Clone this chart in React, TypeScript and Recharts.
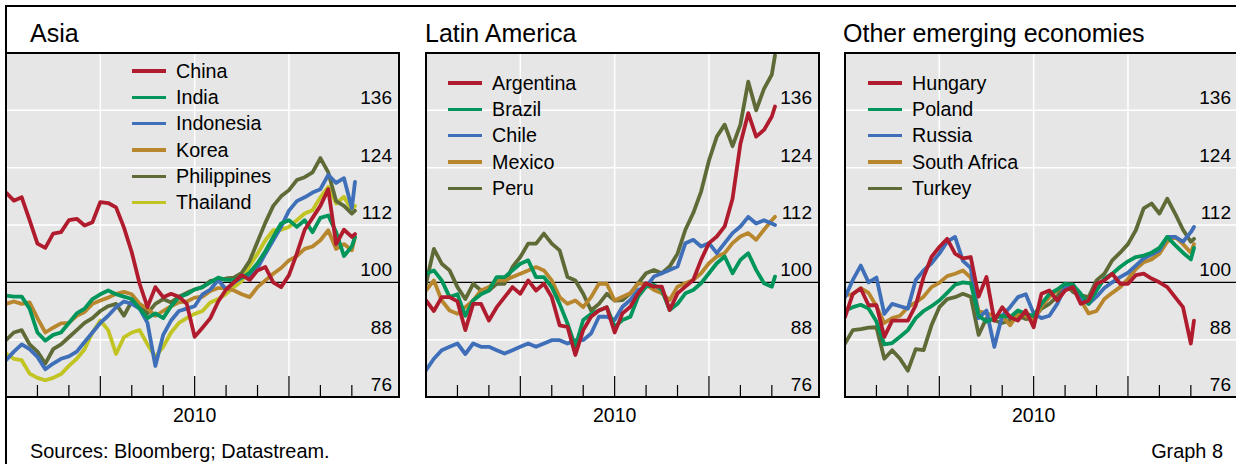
import React from "react";
import { LineChart, Line, XAxis, YAxis, CartesianGrid, ReferenceLine } from "recharts";

// months since the start of the window (mid-2009), last point is the latest weekly obs
const MONTHS = [
  0, 0.5, 1, 1.5, 2, 2.5, 3, 3.5, 4, 4.5, 5, 5.5, 6, 6.5, 7, 7.5, 8, 8.5, 9, 9.5, 10, 10.5,
  11, 11.5, 12, 12.5, 13, 13.5, 14, 14.5, 15, 15.5, 16, 16.5, 17, 17.5, 18, 18.5, 19, 19.5,
  20, 20.5, 21, 21.5, 22, 22.2,
];

const X_TICKS = [2, 4, 6, 8, 10, 12, 14, 16, 18, 20, 22];
const LONG_TICKS = [6, 12, 18];
const YEAR_LABELS = [{ at: 12, text: "2010" }];
const Y_TICKS = [76, 88, 100, 112, 124, 136];
const GRID_Y = [88, 112, 124, 136];

// Asia
const CHINA = [
  118.8, 117.1, 117.8, 113.0, 108.1, 107.2, 110.2, 110.5, 113.0, 113.3, 111.9, 112.6, 116.8, 116.6,
  115.7, 111.5, 106.3, 99.7, 94.8, 99.0, 96.9, 97.6, 97.0, 95.5, 88.6, 90.5, 92.5, 96.0, 98.5, 100.0,
  101.5, 100.5, 102.5, 103.2, 100.0, 99.0, 101.5, 106.0, 111.0, 113.5, 116.0, 119.5, 108.0, 111.0,
  109.5, 110.1,
];
const INDIA = [
  97.2, 97.0, 97.0, 94.5, 89.5, 87.8, 89.0, 89.5, 91.5, 93.5, 94.5, 96.5, 97.5, 98.3, 97.5, 97.0,
  96.5, 94.5, 92.5, 93.5, 92.5, 95.0, 96.9, 97.5, 98.5, 99.0, 100.0, 101.0, 100.5, 100.5, 101.0,
  102.0, 104.0, 106.5, 109.5, 112.3, 113.0, 111.6, 113.0, 110.5, 113.5, 114.0, 110.5, 105.5, 107.5,
  109.5,
];
const INDONESIA = [
  83.7, 85.5, 87.0, 86.0, 84.4, 81.8, 83.0, 84.0, 84.5, 85.5, 87.5, 89.5, 91.5, 93.0, 94.8, 96.0,
  95.5, 94.5, 91.5, 82.5, 89.0, 92.0, 94.0, 94.5, 95.0, 97.5, 98.5, 100.5, 98.5, 100.0, 101.0, 101.5,
  103.0, 106.0, 108.8, 111.6, 115.0, 117.0, 117.8, 118.8, 119.5, 122.5, 120.8, 121.8, 115.5, 121.0,
];
const KOREA = [
  95.5, 96.0, 95.5, 95.8, 92.5, 89.5, 90.5, 91.4, 91.5, 93.0, 93.8, 95.5, 96.2, 96.8, 97.6, 98.0,
  97.5, 95.5, 94.5, 93.0, 94.0, 95.0, 95.8, 96.0, 96.8, 97.0, 98.2, 98.8, 98.8, 98.3, 97.5, 96.9,
  99.0, 100.4, 101.8, 103.0, 104.6, 105.5, 107.0, 107.5, 108.8, 110.9, 107.0, 108.0, 106.7, 109.5,
];
const PHILIPPINES = [
  87.9, 89.5, 90.0, 87.0, 85.5, 83.0, 86.0, 87.0, 88.5, 90.0, 91.5, 92.5, 94.0, 95.0, 95.5, 93.0,
  96.0, 95.0, 93.5, 95.5, 96.5, 95.8, 97.0, 97.8, 98.5, 99.0, 100.3, 100.5, 100.8, 101.0, 102.0,
  104.5, 108.5, 112.5, 116.0, 118.0, 119.3, 121.4, 122.0, 123.0, 126.0, 123.0, 117.0, 116.0, 114.4,
  115.0,
];
const THAILAND = [
  85.1, 84.0, 83.7, 80.9, 80.0, 79.5, 80.0, 80.8, 82.5, 84.0, 86.0, 89.5, 92.0, 90.0, 85.0, 88.5,
  89.5, 90.0, 87.0, 84.4, 86.5, 89.5, 91.5, 92.5, 93.4, 94.0, 95.8, 96.5, 97.6, 99.0, 100.3, 103.5,
  106.0, 108.8, 110.9, 111.0, 111.6, 113.0, 114.4, 115.1, 117.8, 120.0, 116.5, 117.9, 115.1, 116.0,
];

// Latin America
const ARGENTINA = [
  96.2, 94.0, 96.9, 96.9, 96.0, 90.0, 95.5, 95.5, 92.0, 94.8, 96.9, 99.0, 97.6, 100.4, 98.3, 99.7,
  96.9, 91.0, 90.7, 84.8, 90.0, 92.8, 94.1, 94.8, 89.5, 93.5, 94.9, 97.7, 99.8, 99.1, 99.1, 94.2,
  97.7, 99.1, 100.5, 104.7, 108.2, 109.6, 111.7, 117.5, 129.0, 135.4, 130.5, 131.9, 134.7, 136.8,
];
const BRAZIL = [
  101.8, 102.5, 100.4, 96.9, 97.5, 93.0, 96.2, 97.5, 98.3, 101.1, 101.1, 102.5, 103.9, 104.6, 101.1,
  101.1, 99.0, 95.5, 91.4, 86.5, 92.1, 93.4, 94.1, 94.8, 90.7, 92.1, 92.8, 97.0, 99.1, 99.5, 98.4,
  94.2, 95.5, 97.7, 98.4, 99.8, 101.9, 104.0, 105.4, 101.9, 104.7, 106.1, 102.6, 99.8, 99.1, 101.2,
];
const CHILE = [
  81.6, 84.0, 85.8, 86.5, 87.2, 85.0, 87.2, 86.5, 86.5, 85.8, 85.1, 85.8, 86.5, 87.2, 86.5, 87.2,
  87.9, 87.9, 87.2, 87.9, 87.9, 89.3, 92.8, 92.8, 92.1, 94.9, 96.3, 98.4, 99.1, 101.2, 101.9, 102.6,
  103.3, 108.2, 108.9, 107.5, 108.2, 106.1, 108.2, 110.3, 111.7, 113.7, 112.3, 113.0, 112.3, 112.0,
];
const MEXICO = [
  98.3, 100.4, 96.2, 94.1, 93.4, 94.8, 96.2, 98.3, 99.0, 100.4, 100.4, 101.1, 101.8, 102.5, 103.2,
  102.5, 100.4, 96.9, 95.5, 96.2, 94.8, 96.9, 99.7, 99.7, 96.2, 97.0, 97.7, 99.8, 99.5, 98.4, 97.7,
  96.3, 99.1, 99.8, 100.5, 101.9, 104.0, 105.4, 106.1, 108.2, 109.6, 110.3, 108.9, 111.0, 113.0, 113.7,
];
const PERU = [
  99.7, 107.0, 103.9, 102.5, 99.0, 96.5, 99.7, 98.3, 98.3, 99.7, 99.7, 103.2, 105.3, 108.1, 108.1,
  110.2, 108.1, 106.7, 101.1, 100.4, 97.6, 94.1, 95.5, 97.6, 96.2, 96.3, 97.7, 99.8, 101.9, 102.6,
  101.9, 103.3, 106.0, 111.0, 114.5, 119.0, 125.5, 130.5, 133.0, 128.5, 133.0, 142.0, 136.0, 140.5,
  143.5, 147.5,
];

// Other emerging economies
const HUNGARY = [
  92.7, 97.6, 98.7, 95.2, 95.2, 88.6, 92.0, 92.0, 92.0, 95.2, 101.1, 105.3, 107.4, 109.1, 106.0,
  105.0, 105.3, 97.0, 101.1, 92.0, 94.8, 92.7, 92.0, 94.1, 90.6, 97.6, 98.3, 96.2, 98.3, 99.0, 95.5,
  96.2, 99.7, 100.4, 101.8, 99.7, 99.7, 101.5, 101.8, 100.8, 100.0, 99.0, 96.9, 94.8, 87.2, 92.0,
];
const POLAND = [
  94.1, 94.8, 95.3, 94.5, 91.8, 87.0, 87.3, 88.6, 90.0, 92.5, 94.0, 95.0, 96.2, 97.8, 99.5, 100.0,
  99.8, 93.0, 91.8, 92.5, 93.0, 92.7, 94.1, 93.4, 93.0, 95.5, 97.6, 98.5, 99.7, 99.5, 97.6, 95.5,
  98.3, 100.8, 101.8, 103.2, 104.4, 105.3, 105.6, 106.2, 107.2, 109.5, 107.8, 106.2, 104.8, 107.2,
];
const RUSSIA = [
  96.9, 100.5, 103.5, 100.0, 101.0, 93.4, 95.5, 95.0, 94.5, 100.5, 102.5, 104.0, 106.0, 108.5, 109.5,
  104.5, 103.0, 92.5, 94.1, 86.5, 93.0, 94.8, 96.9, 97.5, 93.5, 92.5, 93.0, 95.5, 99.0, 99.5, 96.5,
  95.5, 97.0, 98.8, 100.0, 101.1, 102.0, 103.5, 105.0, 105.8, 106.7, 109.5, 109.5, 108.5, 110.5, 111.6,
];
const SOUTH_AFRICA = [
  97.3, 97.5, 98.8, 97.8, 95.0, 91.5, 92.5, 93.0, 94.8, 95.8, 97.0, 99.0, 99.9, 101.3, 101.8, 102.5,
  101.0, 94.0, 93.5, 93.0, 93.0, 91.0, 93.5, 93.0, 92.0, 95.0, 96.9, 98.3, 99.5, 99.5, 96.2, 93.5,
  94.0, 96.5, 97.8, 99.0, 100.7, 102.8, 104.2, 104.8, 106.0, 108.5, 109.5, 108.0, 106.2, 108.0,
];
const TURKEY = [
  87.2, 90.0, 90.2, 90.5, 90.6, 84.0, 85.8, 84.0, 81.5, 86.0, 85.8, 91.0, 94.8, 96.5, 96.9, 97.6,
  97.0, 89.0, 92.5, 92.0, 91.5, 92.0, 93.0, 92.3, 92.5, 94.5, 95.5, 97.0, 99.7, 98.0, 97.3, 96.9,
  100.4, 101.8, 104.6, 106.2, 108.0, 110.9, 115.5, 116.5, 114.4, 117.5, 114.4, 111.0, 108.5, 109.1,
];

const RED = "#b01c2e";
const GREEN = "#00955a";
const BLUE = "#3e6fb8";
const ORANGE = "#b8862c";
const OLIVE = "#5f6b37";
const YELLOW = "#c2c424";
const BG = "#e6e6e6";
const FONT = "Arial, 'Liberation Sans', Helvetica, sans-serif";

const ASIA = [
  { name: "China", color: RED, values: CHINA },
  { name: "India", color: GREEN, values: INDIA },
  { name: "Indonesia", color: BLUE, values: INDONESIA },
  { name: "Korea", color: ORANGE, values: KOREA },
  { name: "Philippines", color: OLIVE, values: PHILIPPINES },
  { name: "Thailand", color: YELLOW, values: THAILAND },
];
const LATAM = [
  { name: "Argentina", color: RED, values: ARGENTINA },
  { name: "Brazil", color: GREEN, values: BRAZIL },
  { name: "Chile", color: BLUE, values: CHILE },
  { name: "Mexico", color: ORANGE, values: MEXICO },
  { name: "Peru", color: OLIVE, values: PERU },
];
const OTHER = [
  { name: "Hungary", color: RED, values: HUNGARY },
  { name: "Poland", color: GREEN, values: POLAND },
  { name: "Russia", color: BLUE, values: RUSSIA },
  { name: "South Africa", color: ORANGE, values: SOUTH_AFRICA },
  { name: "Turkey", color: OLIVE, values: TURKEY },
];

const PLOT_TOP = 53;
const PLOT_W = 393;
const PLOT_H = 344;
const AXIS_H = 40;

type Series = { name: string; color: string; values: number[] };

function XTick(props: any) {
  const { x, y, payload } = props;
  const base = y - 8; // back to the plot floor (tickSize 6 + tickMargin 2)
  const long = LONG_TICKS.includes(payload.value);
  const year = YEAR_LABELS.find((d) => d.at === payload.value);
  return (
    <g>
      <line x1={x} x2={x} y1={base} y2={base - (long ? 21 : 12)} stroke="#000" strokeWidth={1.2} />
      {year && (
        <text x={x} y={base + 25} textAnchor="middle" fontSize={19.5} fill="#000" fontFamily={FONT}>
          {year.text}
        </text>
      )}
    </g>
  );
}

function YTick(props: any) {
  const { x, y, payload } = props;
  return (
    <text x={x} y={y - 6} textAnchor="end" fontSize={19} fill="#000" fontFamily={FONT}>
      {payload.value}
    </text>
  );
}

function Legend({ series, left, top }: { series: Series[]; left: number; top: number }) {
  return (
    <div style={{ position: "absolute", left, top }}>
      {series.map((s) => (
        <div key={s.name} style={{ display: "flex", alignItems: "center", height: 26.3 }}>
          <div style={{ width: 34, height: 3.4, background: s.color, marginRight: 10 }} />
          <span style={{ fontSize: 19.7, whiteSpace: "nowrap" }}>{s.name}</span>
        </div>
      ))}
    </div>
  );
}

function Panel({
  title,
  series,
  left,
  titleLeft,
  legendLeft,
  legendTop,
}: {
  title: string;
  series: Series[];
  left: number;
  titleLeft: number;
  legendLeft: number;
  legendTop: number;
}) {
  const rows = MONTHS.map((m, i) => {
    const r: any = { m };
    series.forEach((s) => {
      r[s.name] = s.values[i];
    });
    return r;
  });
  return (
    <>
      <div
        style={{
          position: "absolute",
          left: titleLeft,
          top: 21,
          fontSize: 25,
          lineHeight: "25px",
          whiteSpace: "nowrap",
        }}
      >
        {title}
      </div>
      <div style={{ position: "absolute", left, top: PLOT_TOP }}>
        <LineChart
          width={PLOT_W}
          height={PLOT_H + AXIS_H}
          data={rows}
          margin={{ top: 0, right: 0, bottom: 0, left: 0 }}
        >
          <CartesianGrid
            fill={BG}
            stroke="#fff"
            strokeWidth={1.5}
            horizontalValues={GRID_Y}
            verticalValues={LONG_TICKS}
          />
          <XAxis
            dataKey="m"
            type="number"
            domain={[0, 25]}
            ticks={X_TICKS}
            interval={0}
            height={AXIS_H}
            axisLine={false}
            tickLine={false}
            tickSize={6}
            tickMargin={2}
            tick={XTick}
          />
          <YAxis
            orientation="right"
            mirror
            domain={[76, 148]}
            ticks={Y_TICKS}
            interval={0}
            axisLine={false}
            tickLine={false}
            tickSize={5}
            tickMargin={2}
            tick={YTick}
          />
          <ReferenceLine y={100} stroke="#000" strokeWidth={1.2} />
          {[...series].reverse().map((s) => (
            <Line
              key={s.name}
              type="linear"
              dataKey={s.name}
              stroke={s.color}
              strokeWidth={3.8}
              strokeLinejoin="round"
              strokeLinecap="round"
              dot={false}
              activeDot={false}
              isAnimationActive={false}
            />
          ))}
        </LineChart>
      </div>
      <div
        style={{
          position: "absolute",
          left: left - 1,
          top: PLOT_TOP - 1,
          width: PLOT_W + 2,
          height: PLOT_H + 2,
          border: "2px solid #000",
          boxSizing: "border-box",
          pointerEvents: "none",
        }}
      />
      <Legend series={series} left={legendLeft} top={legendTop} />
    </>
  );
}

export default function App() {
  return (
    <div
      style={{
        position: "absolute",
        left: 0,
        top: 0,
        width: 1236,
        height: 464,
        overflow: "hidden",
        background: "#fff",
        color: "#000",
        fontFamily: FONT,
      }}
    >
      <div style={{ position: "absolute", left: 5, top: 5, width: 1231, height: 2, background: "#000" }} />
      <div style={{ position: "absolute", left: 5, top: 5, width: 2, height: 459, background: "#000" }} />
      <Panel title="Asia" series={ASIA} left={6} titleLeft={30} legendLeft={132} legendTop={58} />
      <Panel title="Latin America" series={LATAM} left={426} titleLeft={425} legendLeft={448} legendTop={70} />
      <Panel title="Other emerging economies" series={OTHER} left={845} titleLeft={843} legendLeft={868} legendTop={70} />
      <div style={{ position: "absolute", left: 30, top: 442, fontSize: 19.9, lineHeight: "19.9px", whiteSpace: "nowrap" }}>
        Sources: Bloomberg; Datastream.
      </div>
      <div style={{ position: "absolute", right: 13, top: 442, fontSize: 19.9, lineHeight: "19.9px", whiteSpace: "nowrap" }}>
        Graph 8
      </div>
    </div>
  );
}
